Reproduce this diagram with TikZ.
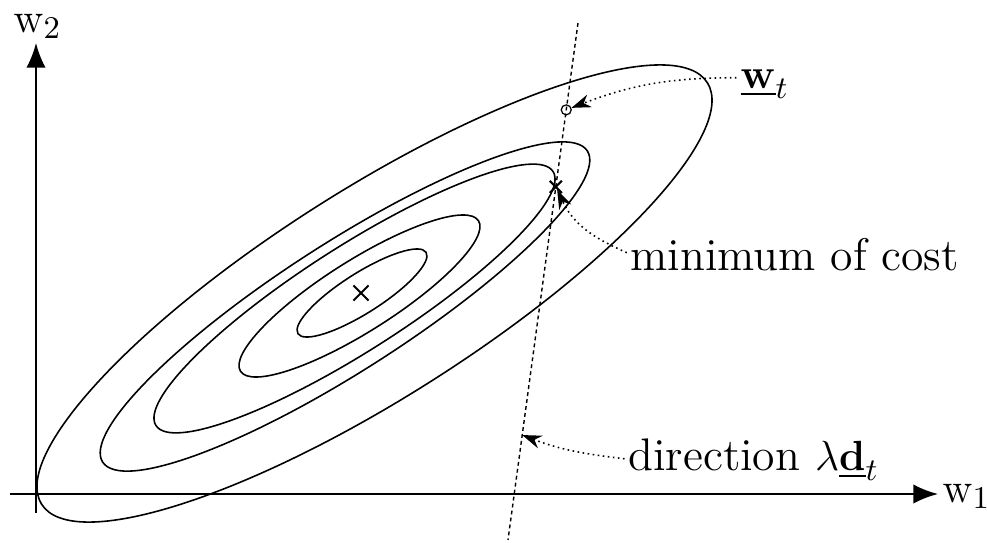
\documentclass[tikz,border=0pt]{standalone}
\usepackage{amsmath}
\usetikzlibrary{arrows.meta, shapes.misc, calc}

\begin{document}
\begin{tikzpicture}[
    contour/.style={line width=0.45pt},
    axis/.style={line width=0.6pt, -{Latex[length=7pt,width=5.5pt]}},
    searchline/.style={line width=0.4pt, dash pattern=on 1.1pt off 0.9pt},
    pointer/.style={line width=0.45pt, densely dotted, -{Stealth[length=5.5pt,width=3.8pt]}},
    lab/.style={inner sep=0pt, anchor=base west, font=\fontsize{13}{16}\selectfont},
    crossmark/.style={cross out, draw, line width=0.6pt, inner sep=0pt},
]
    \useasboundingbox (0,0) rectangle (9.87,5.42);

    % Axes
    \coordinate (xs) at (0.10,0.48);
    \coordinate (xe) at (9.38,0.48);
    \coordinate (ys) at (0.36,0.29);
    \coordinate (ye) at (0.36,4.99);
    \draw[axis] (xs) -- (xe);
    \draw[axis] (ys) -- (ye);
    \node[lab] (w1) at (9.42,0.40) {$\mathrm{w}_1$};
    \node[lab] (w2) at (0.13,5.10) {$\mathrm{w}_2$};

    % Cost contours
    \foreach \cx/\cy/\ra/\rb/\ang in {3.745/2.485/3.94/1.044/32.35,
                                      3.45/2.355/2.88/0.638/32.7,
                                      3.545/2.435/2.357/0.521/32.6,
                                      3.595/2.46/1.408/0.355/32.3,
                                      3.62/2.49/0.759/0.20/32.4}
        \draw[contour, rotate around={\ang:(\cx,\cy)}] (\cx,\cy) ellipse [x radius=\ra, y radius=\rb];
    \node[crossmark, minimum size=0.13cm] (opt) at (3.61,2.49) {};

    % Search direction through w_t
    \coordinate (lt) at (5.78,5.19);
    \coordinate (lb) at (5.08,0.02);
    \draw[searchline] (lt) -- (lb);
    \path (lt) -- (lb) coordinate[pos=0.168] (wt) coordinate[pos=0.317] (mincost) coordinate[pos=0.797] (dirpt);
    \node[draw, circle, line width=0.35pt, minimum size=0.1cm, inner sep=0pt] (wtc) at (wt) {};
    \node[crossmark, minimum size=0.1cm] (minx) at (mincost) {};

    % Labels
    \node[lab] (wlab) at (7.40,4.54) {$\underline{\mathbf{w}}_t$};
    \node[lab] (minlab) at (6.30,2.72) {minimum of cost};
    \node[lab] (dirlab) at (6.28,0.72) {direction $\lambda\underline{\mathbf{d}}_t$};

    \draw[pointer, shorten <=1pt] ([yshift=0.6mm]wlab.west) to[out=180, in=21] (wtc);
    \draw[pointer, shorten <=1pt, shorten >=-1pt] (minlab.west) to[out=156, in=-65] (minx);
    \draw[pointer, shorten <=1pt] (dirlab.west) to[out=173, in=-21] (dirpt);
\end{tikzpicture}
\end{document}
